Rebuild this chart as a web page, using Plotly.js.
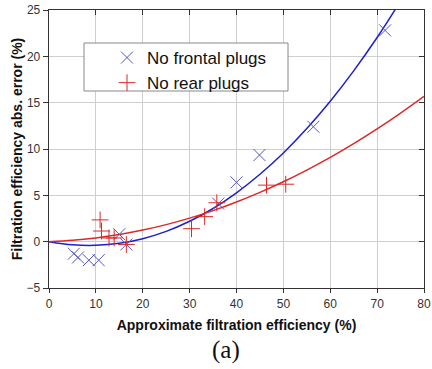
<!DOCTYPE html>
<html>
<head>
<meta charset="utf-8">
<script src="https://cdn.plot.ly/plotly-3.0.1.min.js"></script>
<style>
  html, body { margin: 0; padding: 0; background: #ffffff; }
  #chart { width: 432px; height: 369px; }
</style>
</head>
<body>
<div id="chart"></div>
<script>
// Measured points
const frontalX = [5.3, 6.2, 8.5, 10.6, 15.0, 16.5, 36.1, 40.0, 44.9, 56.4, 71.7];
const frontalY = [-1.3, -1.7, -2.0, -2.0, 0.8, -0.3, 4.1, 6.4, 9.35, 12.4, 22.8];
const rearX = [10.9, 11.2, 12.8, 13.9, 16.5, 30.4, 33.2, 35.8, 46.4, 50.5];
const rearY = [2.35, 1.15, 0.4, 0.4, -0.3, 1.4, 2.7, 4.2, 6.1, 6.2];

// Fitted curves
const fitX = [0, 5, 10, 15, 20, 25, 30, 35, 40, 45, 50, 55, 60, 65, 70, 75, 80];
const frontalFitY = [0, -0.34, -0.40, -0.18, 0.32, 1.11, 2.20, 3.58, 5.27, 7.27, 9.57, 12.20, 15.15, 18.43, 22.03, 25.98, 30.2];
const rearFitY = [0, 0.14, 0.40, 0.77, 1.25, 1.84, 2.54, 3.35, 4.28, 5.32, 6.46, 7.72, 9.09, 10.58, 12.17, 13.88, 15.69];

// Labels
const seriesNames = ["No frontal plugs", "No rear plugs"];
const xTitle = "Approximate filtration efficiency (%)";
const yTitle = "Filtration efficiency abs. error (%)";
const panelLabel = "(a)";

const blueMarker = "rgb(85,85,195)";
const blueLine = "rgb(30,30,205)";
const red = "rgb(220,40,40)";

const traces = [
  {x: fitX, y: frontalFitY, mode: "lines", line: {color: blueLine, width: 1.5, shape: "spline"}, showlegend: false, hoverinfo: "skip"},
  {x: fitX, y: rearFitY, mode: "lines", line: {color: red, width: 1.5, shape: "spline"}, showlegend: false, hoverinfo: "skip"},
  {x: frontalX, y: frontalY, mode: "markers", name: seriesNames[0],
   marker: {symbol: "x-thin-open", size: 12, color: blueMarker, line: {color: blueMarker, width: 1}}},
  {x: rearX, y: rearY, mode: "markers", name: seriesNames[1],
   marker: {symbol: "cross-thin-open", size: 12, color: red, line: {color: red, width: 1}}},
  {x: [], y: [], xaxis: "x2", yaxis: "y2", showlegend: false, hoverinfo: "skip"}
];

const tickFont = {family: "Liberation Sans, Arial, sans-serif", size: 12, color: "#333"};
const W = 432, H = 369, ml = 49, mr = 8, mt = 10, mb = 81;
const pw = W - ml - mr, ph = H - mt - mb;
const px2x = p => (p - ml) / pw;
const py2y = p => (H - mb - p) / ph;

const layout = {
  width: W, height: H,
  margin: {l: ml, r: mr, t: mt, b: mb},
  paper_bgcolor: "#ffffff",
  plot_bgcolor: "#ffffff",
  font: {family: "Liberation Sans, Arial, sans-serif", color: "#000"},
  xaxis: {
    range: [0, 80], dtick: 10, tick0: 0,
    showgrid: true, gridcolor: "#cfcfcf", gridwidth: 1,
    zeroline: false,
    showline: true, linecolor: "#333", linewidth: 1.3,
    ticks: "outside", ticklen: 4, tickcolor: "#333",
    tickfont: tickFont,
    title: {text: "<b>" + xTitle + "</b>", font: {size: 14, color: "#111"}, standoff: 10}
  },
  yaxis: {
    range: [-5, 25], dtick: 5, tick0: 0,
    showgrid: true, gridcolor: "#cfcfcf", gridwidth: 1,
    zeroline: false,
    showline: true, linecolor: "#333", linewidth: 1.3,
    ticks: "outside", ticklen: 5, tickcolor: "#333",
    tickfont: tickFont,
    title: {text: "<b>" + yTitle + "</b>", font: {size: 14, color: "#111"}, standoff: 0}
  },
  xaxis2: {
    overlaying: "x", side: "top", anchor: "y", range: [0, 80], dtick: 10,
    showgrid: false, zeroline: false, showticklabels: false,
    showline: true, linecolor: "#333", linewidth: 1,
    ticks: "inside", ticklen: 5, tickcolor: "#333"
  },
  yaxis2: {
    overlaying: "y", side: "right", anchor: "x", range: [-5, 25], dtick: 5,
    showgrid: false, zeroline: false, showticklabels: false,
    showline: true, linecolor: "#333", linewidth: 1,
    ticks: "inside", ticklen: 5, tickcolor: "#333"
  },
  showlegend: true,
  legend: {
    x: px2x(107), y: py2y(40), xanchor: "left", yanchor: "top",
    bgcolor: "rgba(0,0,0,0)", borderwidth: 0,
    font: {family: "Liberation Sans, Arial, sans-serif", size: 17, color: "#111"},
    tracegroupgap: 0
  },
  shapes: [{
    type: "rect", xref: "paper", yref: "paper", layer: "above",
    x0: px2x(84), x1: px2x(288), y0: py2y(91), y1: py2y(43),
    fillcolor: "#ffffff", line: {color: "#888", width: 1}
  }],
  annotations: [{
    text: panelLabel, xref: "paper", yref: "paper",
    x: px2x(226), y: py2y(350), xanchor: "center", yanchor: "middle",
    showarrow: false, font: {family: "Liberation Serif, Times New Roman, serif", size: 25, color: "#111"}
  }]
};

Plotly.newPlot("chart", traces, layout, {displayModeBar: false, staticPlot: true});
</script>
</body>
</html>
